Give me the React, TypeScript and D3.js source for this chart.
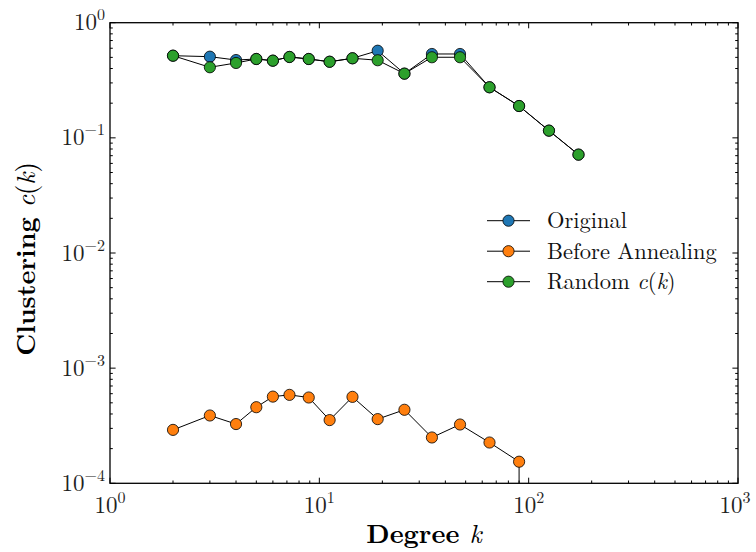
import React from "react";
import * as d3 from "d3";

const degrees = [2, 3, 4, 5, 6, 7.2, 8.9, 11.2, 14.4, 19, 25.5, 34.5, 47, 65, 90, 125, 173];
const original = [0.517, 0.507, 0.474, 0.484, 0.468, 0.504, 0.484, 0.458, 0.491, 0.571, 0.361, 0.535, 0.535, 0.275, 0.189, 0.1155, 0.0715];
const beforeAnnealing = [2.91e-4, 3.88e-4, 3.27e-4, 4.58e-4, 5.66e-4, 5.86e-4, 5.56e-4, 3.54e-4, 5.63e-4, 3.61e-4, 4.35e-4, 2.5e-4, 3.24e-4, 2.26e-4, 1.54e-4, 0];
const randomCk = [0.517, 0.41, 0.447, 0.484, 0.468, 0.504, 0.484, 0.458, 0.491, 0.472, 0.361, 0.501, 0.501, 0.275, 0.189, 0.1155, 0.0715];

const seriesNames = ["Original", "Before Annealing", "Random"];
const seriesColors = ["#1f77b4", "#ff7f0e", "#2ca02c"];
const xDecades = [0, 1, 2, 3];
const yDecades = [-4, -3, -2, -1, 0];

const W = 756, H = 552;
const L = 110, R = 738, T = 22.7, B = 483.3;
const FONT = "Latin Modern Roman, CMU Serif, Liberation Serif, serif";

export default function App() {
  const x = d3.scaleLog().domain([1, 1000]).range([L, R]);
  const y = d3.scaleLog().domain([1e-4, 1]).range([B, T]);

  const series = [
    { name: seriesNames[0], color: seriesColors[0], xs: degrees, ys: original },
    { name: seriesNames[1], color: seriesColors[1], xs: degrees.slice(0, beforeAnnealing.length), ys: beforeAnnealing },
    { name: seriesNames[2], color: seriesColors[2], xs: degrees, ys: randomCk },
  ];

  // a zero value on a log axis is clipped far below: the segment drops straight to the bottom axis
  const path = (pts: [number, number][]) => {
    const xy: [number, number][] = [];
    pts.forEach((p, i) => {
      if (p[1] > 0) xy.push([x(p[0]), y(p[1])]);
      else if (i > 0 && pts[i - 1][1] > 0) xy.push([x(pts[i - 1][0]), B + 5]);
    });
    return d3.line()(xy) || "";
  };

  const minorX: number[] = [];
  xDecades.slice(0, -1).forEach(e => { for (let m = 2; m <= 9; m++) minorX.push(m * Math.pow(10, e)); });
  const minorY: number[] = [];
  yDecades.slice(0, -1).forEach(e => { for (let m = 2; m <= 9; m++) minorY.push(m * Math.pow(10, e)); });

  const MJ = 5.6, MN = 2.8;
  const tickEls: React.ReactNode[] = [];
  xDecades.forEach(e => {
    const px = x(Math.pow(10, e));
    tickEls.push(<line key={"xb" + e} x1={px} x2={px} y1={B} y2={B - MJ} />);
    tickEls.push(<line key={"xt" + e} x1={px} x2={px} y1={T} y2={T + MJ} />);
  });
  minorX.forEach((v, i) => {
    const px = x(v);
    tickEls.push(<line key={"mxb" + i} x1={px} x2={px} y1={B} y2={B - MN} />);
    tickEls.push(<line key={"mxt" + i} x1={px} x2={px} y1={T} y2={T + MN} />);
  });
  yDecades.forEach(e => {
    const py = y(Math.pow(10, e));
    tickEls.push(<line key={"yl" + e} x1={L} x2={L + MJ} y1={py} y2={py} />);
    tickEls.push(<line key={"yr" + e} x1={R} x2={R - MJ} y1={py} y2={py} />);
  });
  minorY.forEach((v, i) => {
    const py = y(v);
    tickEls.push(<line key={"myl" + i} x1={L} x2={L + MN} y1={py} y2={py} />);
    tickEls.push(<line key={"myr" + i} x1={R} x2={R - MN} y1={py} y2={py} />);
  });

  const sup = (e: number) => (e < 0 ? "\u2212" + Math.abs(e) : String(e));

  const legendRows = [220.7, 251.2, 281.7];

  return (
    <svg width={W} height={H} style={{ position: "absolute", left: 0, top: 0, background: "#fff", fontFamily: FONT }}>
      <defs>
        <clipPath id="plotclip">
          <rect x={L} y={T} width={R - L} height={B - T} />
        </clipPath>
      </defs>
      <rect x={0} y={0} width={W} height={H} fill="#fff" />
      <g clipPath="url(#plotclip)">
        {series.map((s, si) => {
          const pts: [number, number][] = s.xs.map((d, i) => [d, s.ys[i]]);
          return (
            <g key={si}>
              <path d={path(pts)} fill="none" stroke="#000" strokeWidth={1} />
              {pts.filter(p => p[1] > 0).map((p, i) => (
                <circle key={i} cx={x(p[0])} cy={y(p[1])} r={5.6} fill={s.color} stroke="#000" strokeWidth={0.8} />
              ))}
            </g>
          );
        })}
      </g>
      <g stroke="#000" strokeWidth={1}>{tickEls}</g>
      <rect x={L} y={T} width={R - L} height={B - T} fill="none" stroke="#000" strokeWidth={1.3} />
      {xDecades.map(e => (
        <text key={"xl" + e} x={Math.min(x(Math.pow(10, e)), 735)} y={513} fontSize={23} textAnchor="middle" fill="#222">
          10<tspan dy={-10} fontSize={16}>{sup(e)}</tspan>
        </text>
      ))}
      {yDecades.map(e => (
        <text key={"yl" + e} x={105} y={y(Math.pow(10, e)) + 7.5} fontSize={23} textAnchor="end" fill="#222">
          10<tspan dy={-10} fontSize={16}>{sup(e)}</tspan>
        </text>
      ))}
      <text x={424} y={543} fontSize={26.5} textAnchor="middle" fontWeight="bold" fill="#000">
        Degree <tspan fontStyle="italic" fontWeight="normal">k</tspan>
      </text>
      <text transform={`translate(35,259) rotate(-90)`} fontSize={26.5} textAnchor="middle" fontWeight="bold" fill="#000">
        Clustering <tspan fontStyle="italic" fontWeight="normal">c</tspan><tspan fontWeight="normal">(</tspan><tspan fontStyle="italic" fontWeight="normal">k</tspan><tspan fontWeight="normal">)</tspan>
      </text>
      {series.map((s, i) => (
        <g key={"lg" + i}>
          <line x1={487} x2={530} y1={legendRows[i]} y2={legendRows[i]} stroke="#000" strokeWidth={1} />
          <circle cx={508.5} cy={legendRows[i]} r={5.6} fill={s.color} stroke="#000" strokeWidth={0.8} />
          <text x={547} y={legendRows[i] + 7.5} fontSize={22.5} fill="#111">
            {i === 2 ? (
              <>Random <tspan fontStyle="italic">c</tspan>(<tspan fontStyle="italic">k</tspan>)</>
            ) : s.name}
          </text>
        </g>
      ))}
    </svg>
  );
}
